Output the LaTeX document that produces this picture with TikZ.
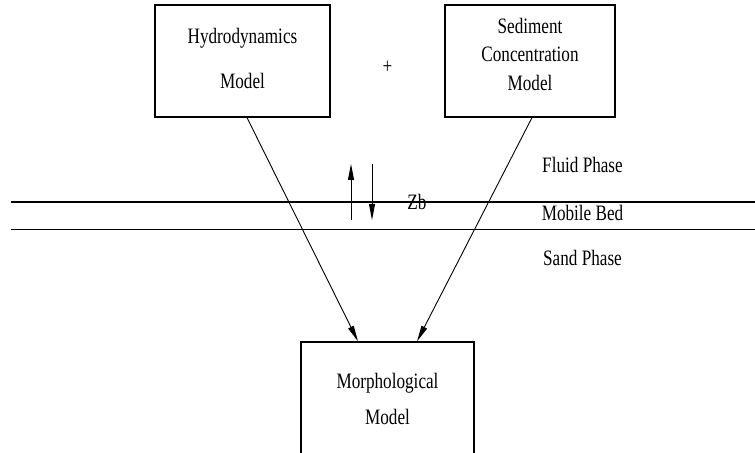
\documentclass[tikz,border=0pt]{standalone}
\usepackage{fontspec}
\setmainfont{Liberation Serif}[FakeStretch=0.78]
\usetikzlibrary{arrows.meta}
\tikzset{modelbox/.style={rectangle,draw,line width=0.6pt,align=center,inner sep=0pt,minimum height=56pt},
  phase/.style={anchor=base},
  flow/.style={->,line width=0.45pt}}

\begin{document}
\begin{tikzpicture}[x=0.5pt,y=-0.5pt,>={Triangle[length=8pt,width=3pt]},font=\fontsize{11}{13.6}\selectfont]
  \clip (0,0) rectangle (755,453);
  % the two input models
  \node[modelbox,minimum width=87.5pt] (hydro) at (242.5,61) {Hydrodynamics\\[9pt]Model\rule[-3pt]{0pt}{0pt}};
  \node[modelbox,minimum width=85pt] (sedi) at (530,61) {Sediment\\[0.7pt]Concentration\\[0.7pt]Model\rule[-7pt]{0pt}{0pt}};
  \node (plus) at (387.5,67) {+};
  \node[modelbox,minimum width=86.5pt,minimum height=57pt] (morph) at (387.5,399) {Morphological\\[4pt]Model};
  % bed layers
  \draw[line width=0.6pt] (11,202) -- (760,202);
  \draw[line width=0.6pt] (11,229.5) -- (760,229.5);
  \node[phase] (fluid) at (582.5,173) {Fluid Phase};
  \node[phase] (bed) at (582.5,221) {Mobile Bed};
  \node[phase] (sand) at (582.5,266) {Sand Phase};
  % bed level change
  \coordinate (upfoot) at (351,220);
  \coordinate (uphead) at (351,164);
  \coordinate (downfoot) at (372,164);
  \coordinate (downhead) at (372,220);
  \draw[flow] (upfoot) -- (uphead);
  \draw[flow] (downfoot) -- (downhead);
  \node[phase] (zb) at (417,210) {Zb};
  % coupling
  \draw[flow] ([xshift=2.25pt]hydro.south) -- ([xshift=-14.75pt]morph.north);
  \draw[flow] ([xshift=1pt]sedi.south) -- ([xshift=14.75pt]morph.north);
\end{tikzpicture}
\end{document}
